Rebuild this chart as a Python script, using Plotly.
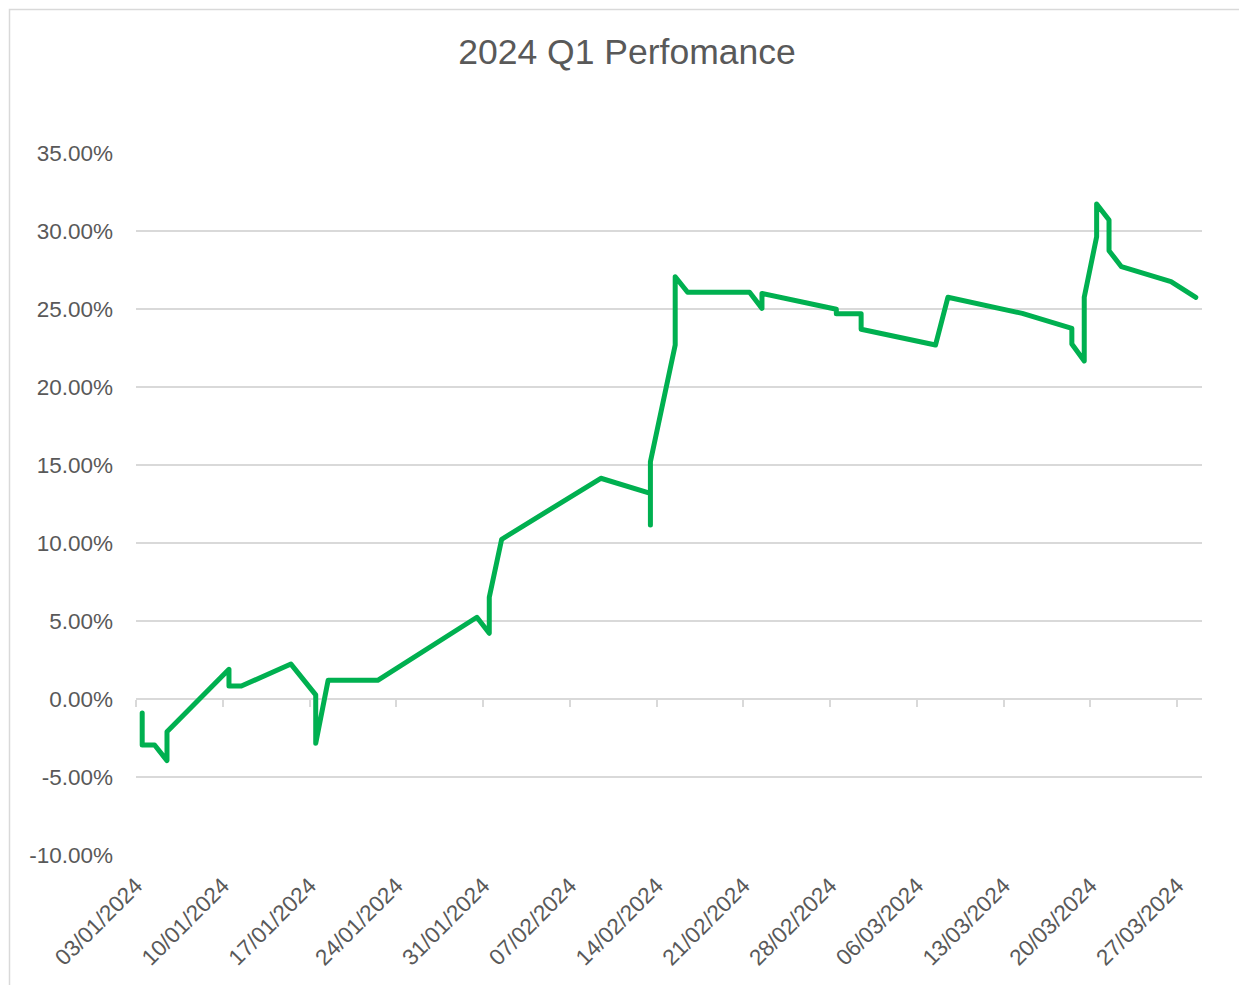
import pandas as pd
import plotly.graph_objects as go

# ---- data ----
dates = [
    "2024-01-03", "2024-01-03", "2024-01-04", "2024-01-05", "2024-01-05",
    "2024-01-10", "2024-01-10", "2024-01-11", "2024-01-15", "2024-01-17",
    "2024-01-17", "2024-01-18", "2024-01-22", "2024-01-30", "2024-01-31",
    "2024-01-31", "2024-02-01", "2024-02-09", "2024-02-13", "2024-02-13",
    "2024-02-13", "2024-02-15", "2024-02-15", "2024-02-16", "2024-02-21",
    "2024-02-22", "2024-02-22", "2024-02-28", "2024-02-28", "2024-03-01",
    "2024-03-01", "2024-03-07", "2024-03-08", "2024-03-14", "2024-03-18",
    "2024-03-18", "2024-03-19", "2024-03-19", "2024-03-20", "2024-03-20",
    "2024-03-21", "2024-03-21", "2024-03-22", "2024-03-26", "2024-03-28",
]
performance = [
    -0.0090, -0.0295, -0.0295, -0.0395, -0.0210,
    0.0190, 0.0083, 0.0083, 0.0224, 0.0026,
    -0.0284, 0.0120, 0.0120, 0.0524, 0.0421,
    0.0652, 0.1024, 0.1415, 0.1318, 0.1115,
    0.1521, 0.2269, 0.2707, 0.2607, 0.2607,
    0.2504, 0.2600, 0.2498, 0.2470, 0.2470,
    0.2370, 0.2269, 0.2575, 0.2472, 0.2376,
    0.2276, 0.2167, 0.2575, 0.2963, 0.3173,
    0.3070, 0.2874, 0.2771, 0.2675, 0.2575,
]
y_tick_values = [-0.10, -0.05, 0.0, 0.05, 0.10, 0.15, 0.20, 0.25, 0.30, 0.35]
y_tick_labels = ["-10.00%", "-5.00%", "0.00%", "5.00%", "10.00%",
                 "15.00%", "20.00%", "25.00%", "30.00%", "35.00%"]
x_start, x_end = "2024-01-03", "2024-03-29"
title_text = "2024 Q1 Perfomance"

# ---- styling / layout constants ----
W, H = 1239, 985
ML, MR, MT, MB = 136, 37, 153, 130
GREEN = "#00B050"
GRID = "#D9D9D9"
TEXT = "#595959"
FONT = "Liberation Sans, Arial, sans-serif"

# points sit in the middle of each day's band on the date axis
x_vals = pd.to_datetime(pd.Series(dates)) + pd.Timedelta(hours=12)
week_ms = 7 * 24 * 3600 * 1000

fig = go.Figure()
fig.add_trace(go.Scatter(
    x=x_vals, y=performance, mode="lines",
    line=dict(color=GREEN, width=5), hoverinfo="x+y", showlegend=False,
))
# invisible companion trace so the zero-crossing axis (ticks at 0%) is drawn
fig.add_trace(go.Scatter(
    x=x_vals, y=performance, mode="lines", xaxis="x2",
    line=dict(color="rgba(0,0,0,0)", width=0), hoverinfo="skip", showlegend=False,
))

y_min, y_max = y_tick_values[0], y_tick_values[-1]
zero_pos = (0 - y_min) / (y_max - y_min)

plot_w = W - ML - MR
plot_h = H - MT - MB
# chart-area border (top and left visible, rest off-canvas)
bx0 = (9.5 - ML) / plot_w
bx1 = (W + 20 - ML) / plot_w
by1 = (H - MB - 9.5) / plot_h
by0 = (H - MB - (H + 20)) / plot_h

fig.update_layout(
    width=W, height=H,
    margin=dict(l=ML, r=MR, t=MT, b=MB, pad=0),
    paper_bgcolor="white", plot_bgcolor="white",
    font=dict(family=FONT, color=TEXT, size=22),
    title=dict(text=title_text, x=627 / W, xanchor="center", xref="container",
               y=1 - 52 / H, yanchor="middle", yref="container",
               font=dict(size=35.5, color=TEXT, family=FONT)),
    xaxis=dict(
        type="date", range=[x_start, x_end], tick0=x_start, dtick=week_ms,
        tickformat="%d/%m/%Y", tickangle=-45, showgrid=False, showline=False,
        zeroline=False, ticks="", ticklabelstandoff=12, automargin=False,
        tickfont=dict(size=22.5, color=TEXT, family=FONT),
    ),
    xaxis2=dict(
        type="date", range=[x_start, x_end], tick0=x_start, dtick=week_ms,
        overlaying="x", anchor="free", position=zero_pos, side="bottom",
        showline=True, linecolor=GRID, linewidth=1.5,
        ticks="outside", ticklen=7, tickcolor=GRID, tickwidth=1.5,
        showticklabels=False, showgrid=False, zeroline=False,
        layer="below traces", automargin=False,
    ),
    yaxis=dict(
        range=[y_min, y_max], tickvals=y_tick_values, ticktext=y_tick_labels,
        showgrid=True, gridcolor=GRID, gridwidth=1.5, zeroline=False,
        showline=False, ticks="", ticklabelstandoff=22, automargin=False,
        tickfont=dict(size=22.5, color=TEXT, family=FONT),
    ),
    shapes=[dict(type="rect", xref="paper", yref="paper",
                 x0=bx0, x1=bx1, y0=by0, y1=by1,
                 line=dict(color=GRID, width=1.5), fillcolor="rgba(0,0,0,0)",
                 layer="below")],
    showlegend=False,
)

fig.write_html(
    "out.html", config={"displayModeBar": False},
    post_script=(
        "document.body.style.margin='0';document.body.style.overflow='hidden';"
        "document.querySelectorAll('.js-line').forEach(function(p){"
        "p.style.strokeLinejoin='round';p.style.strokeLinecap='round';});"
    ),
)
